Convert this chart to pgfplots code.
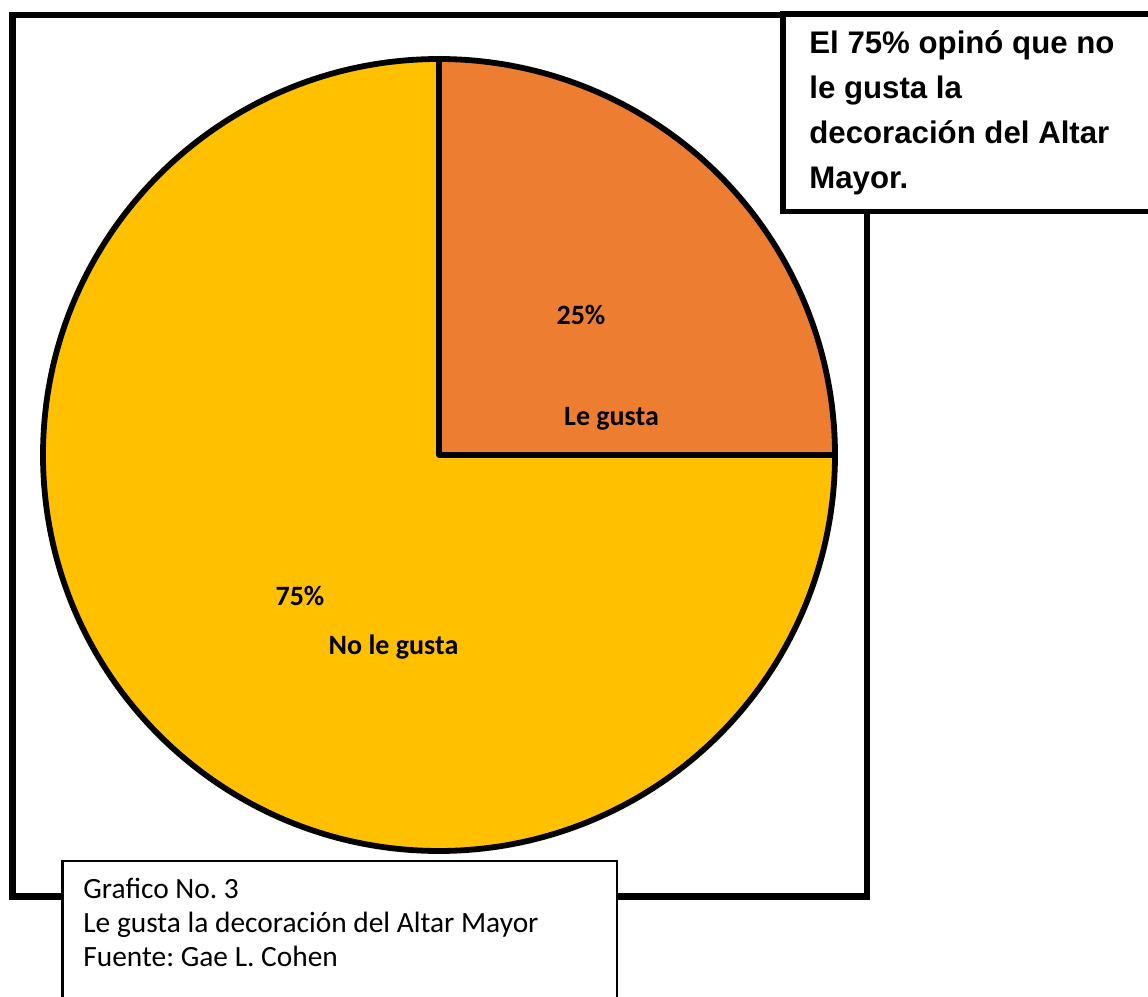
\documentclass[border=0pt]{standalone}
\usepackage{pgfplots}
\pgfplotsset{compat=1.18}
\usepackage{fontspec}
\setmainfont{Carlito}
\newfontfamily\boxfont{Liberation Sans}
\definecolor{pieorange}{HTML}{ED7D31}
\definecolor{pieyellow}{HTML}{FFC000}
\frenchspacing
% data: share of answers (percent)
\def\shareA{25}% Le gusta
\def\shareB{75}% No le gusta
\pgfmathsetmacro\angA{3.6*\shareA}
\pgfmathsetmacro\angB{\angA+3.6*\shareB}
\begin{document}
\begin{tikzpicture}
\fill[white] (0,0) rectangle (574pt,498.5pt);
\begin{axis}[x=0.5pt, y=0.5pt, xmin=0, xmax=1148, ymin=0, ymax=997,
  enlargelimits=false, hide axis, clip=false, anchor=south west, at={(0,0)}]
% outer frame
\draw[line width=3.4pt] (axis cs:12.5,982) rectangle (axis cs:867,100.5);
% pie
\filldraw[fill=pieorange, draw=black, line width=2.9pt, line join=round]
  (axis cs:439,542) -- ++(0:198pt) arc[start angle=0, end angle=\angA, radius=198pt] -- cycle;
\filldraw[fill=pieyellow, draw=black, line width=2.9pt, line join=round]
  (axis cs:439,542) -- ++(\angA:198pt) arc[start angle=\angA, end angle=\angB, radius=198pt] -- cycle;
% slice labels
\node[anchor=base, inner sep=0, font=\bfseries\fontsize{14}{17}\selectfont] at (axis cs:581,672) {25\%};
\node[anchor=base, inner sep=0, font=\bfseries\fontsize{14}{17}\selectfont] at (axis cs:611.5,571) {Le gusta};
\node[anchor=base, inner sep=0, font=\bfseries\fontsize{14}{17}\selectfont] at (axis cs:300,391) {75\%};
\node[anchor=base, inner sep=0, font=\bfseries\fontsize{14}{17}\selectfont] at (axis cs:393.5,342) {No le gusta};
% top-right comment box
\draw[line width=2.6pt, fill=white] (axis cs:783,983) rectangle (axis cs:1170,785.5);
\node[anchor=base west, inner sep=0, font=\boxfont\bfseries\fontsize{15.6}{23}\selectfont] at (axis cs:809,943) {El 75\% opinó que no};
\node[anchor=base west, inner sep=0, font=\boxfont\bfseries\fontsize{15.6}{23}\selectfont] at (axis cs:809,898) {le gusta la};
\node[anchor=base west, inner sep=0, font=\boxfont\bfseries\fontsize{15.6}{23}\selectfont] at (axis cs:809,853) {decoración del Altar};
\node[anchor=base west, inner sep=0, font=\boxfont\bfseries\fontsize{15.6}{23}\selectfont] at (axis cs:809,808) {Mayor.};
% caption box
\draw[line width=1.25pt, fill=white] (axis cs:62.5,136) rectangle (axis cs:617,-10);
\node[anchor=base west, inner sep=0, font=\fontsize{14.7}{17}\selectfont] at (axis cs:83,98) {Grafico No. 3};
\node[anchor=base west, inner sep=0, font=\fontsize{14.7}{17}\selectfont] at (axis cs:83,64) {Le gusta la decoración del Altar Mayor};
\node[anchor=base west, inner sep=0, font=\fontsize{14.7}{17}\selectfont] at (axis cs:83,30) {Fuente: Gae L. Cohen};
\end{axis}
\pgfresetboundingbox
\useasboundingbox (0,0) rectangle (574pt,498.5pt);
\end{tikzpicture}
\end{document}
